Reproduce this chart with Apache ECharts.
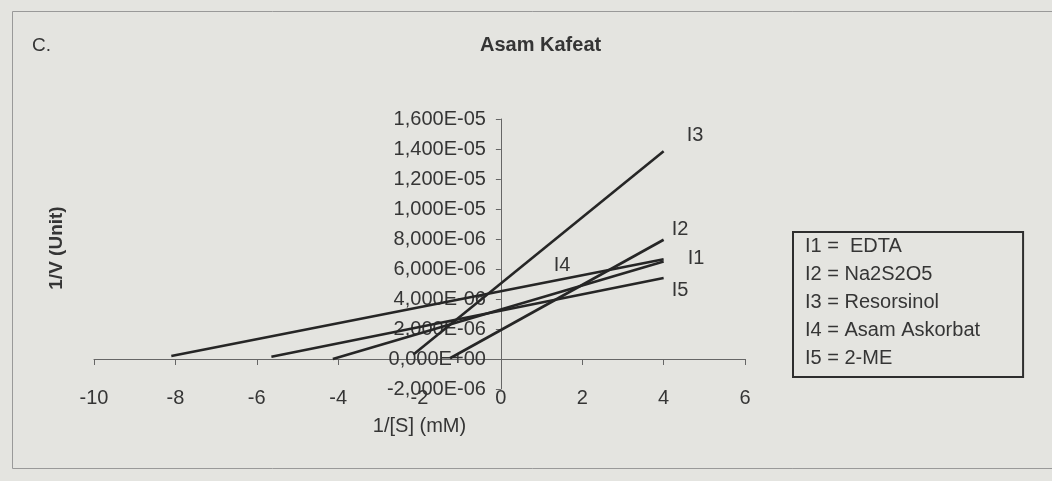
<!DOCTYPE html>
<html><head><meta charset="utf-8">
<script src="https://cdn.jsdelivr.net/npm/echarts@6/dist/echarts.min.js"></script>
<style>html,body{margin:0;padding:0;background:#e4e4e0}#c{width:1052px;height:481px}</style>
</head><body><div id="c"></div>
<script>
// ---- data ----
const seriesKeys = ['I1', 'I2', 'I3', 'I4', 'I5'];
const legendLabels = ['I1 =  EDTA', 'I2 = Na2S2O5', 'I3 = Resorsinol', 'I4 = Asam Askorbat', 'I5 = 2-ME'];
const I1 = [[-8.1, 0.2e-6], [4, 6.65e-6]];
const I2 = [[-1.25, 0.05e-6], [4, 7.95e-6]];
const I3 = [[-2.15, 0.3e-6], [4, 13.85e-6]];
const I4 = [[-4.13, 0], [4, 6.5e-6]];
const I5 = [[-5.64, 0.15e-6], [4, 5.4e-6]];
const xMin = -10, xMax = 6, xStep = 2;
const yMin = -2e-6, yMax = 1.6e-5, yStep = 2e-6;
const titleText = 'Asam Kafeat';
const xName = '1/[S] (mM)';
const yName = '1/V (Unit)';
const panelTag = 'C.';

// ---- styling / layout ----
const FONT = '"Liberation Sans", Arial, sans-serif';
const TXT = '#353535';
const LINE = '#262626';
const W = 1052;
const G = {left: 94, right: 307, top: 119, bottom: 92};
const plotW = W - G.left - G.right;
const zeroShift = plotW * (0 - xMin) / (xMax - xMin);
const endOffsets = [[16, -1], [0, -10], [15, -16], [-118, 4], [0, 12]];
const seriesData = [I1, I2, I3, I4, I5];

function sci(v) {
  if (Math.abs(v) < 1e-20) return '0,000E+00';
  let e = Math.floor(Math.log10(Math.abs(v)) + 1e-9);
  let s = (v / Math.pow(10, e)).toFixed(3);
  if (Math.abs(parseFloat(s)) >= 10) { e += 1; s = (v / Math.pow(10, e)).toFixed(3); }
  return s.replace('.', ',') + 'E' + (e < 0 ? '-' : '+') + String(Math.abs(e)).padStart(2, '0');
}

const chart = echarts.init(document.getElementById('c'), null, {renderer: 'canvas'});
chart.setOption({
  backgroundColor: '#e4e4e0',
  animation: false,
  textStyle: {fontFamily: FONT},
  title: {text: titleText, left: 480, top: 35, padding: 0,
    textStyle: {fontSize: 20, fontWeight: 'bold', color: TXT, fontFamily: FONT}},
  grid: {left: G.left, right: G.right, top: G.top, bottom: G.bottom, containLabel: false, outerBoundsMode: 'none'},
  legend: {
    data: legendLabels, orient: 'vertical', left: 793, top: 232,
    selectedMode: false, icon: 'rect', itemWidth: 1, itemHeight: 16, itemGap: 8,
    itemStyle: {opacity: 0}, lineStyle: {opacity: 0},
    padding: [4, 43, 9, 6],
    borderColor: '#2e2e2e', borderWidth: 2, backgroundColor: 'transparent',
    textStyle: {fontSize: 20, color: TXT, fontFamily: FONT, padding: 0}
  },
  xAxis: [
    {type: 'value', min: xMin, max: xMax, interval: xStep,
      axisLine: {show: true, onZero: true, lineStyle: {color: '#666', width: 1}},
      axisTick: {show: true, inside: false, length: 6, lineStyle: {color: '#666'}},
      axisLabel: {show: false}, splitLine: {show: false}},
    {type: 'value', min: xMin, max: xMax, interval: xStep, position: 'bottom',
      axisLine: {show: false, onZero: false}, axisTick: {show: false}, splitLine: {show: false},
      axisLabel: {show: true, fontSize: 20, color: TXT, fontFamily: FONT, margin: -1},
      name: xName, nameLocation: 'middle', nameGap: 27,
      nameTextStyle: {fontSize: 20, color: TXT, fontFamily: FONT}}
  ],
  yAxis: {type: 'value', min: yMin, max: yMax, interval: yStep,
    axisLine: {show: true, onZero: true, onZeroAxisIndex: 0, lineStyle: {color: '#666', width: 1}},
    axisTick: {show: true, inside: false, length: 5, lineStyle: {color: '#666'}},
    splitLine: {show: false},
    axisLabel: {fontSize: 20, color: TXT, fontFamily: FONT, margin: 15 - zeroShift, formatter: sci}},
  graphic: [
    {type: 'rect', silent: true, z: -1, shape: {x: 12.5, y: 11.5, width: 1100, height: 457},
      style: {fill: 'none', stroke: '#999', lineWidth: 1}},
    {type: 'text', x: 32, y: 46, style: {text: panelTag, font: '19px ' + FONT, fill: TXT, textVerticalAlign: 'middle'}},
    {type: 'text', x: 57, y: 248, rotation: Math.PI / 2,
      style: {text: yName, font: 'bold 19px ' + FONT, fill: TXT, textAlign: 'center', textVerticalAlign: 'middle'}}
  ],
  series: seriesData.map((d, i) => ({
    name: legendLabels[i], type: 'line', xAxisIndex: 0, yAxisIndex: 0, data: d,
    symbol: 'none', lineStyle: {color: LINE, width: 2.6}, itemStyle: {color: LINE},
    endLabel: {show: true, formatter: seriesKeys[i], offset: endOffsets[i],
      fontSize: 20, color: TXT, fontFamily: FONT}
  }))
});
</script>
</body></html>
